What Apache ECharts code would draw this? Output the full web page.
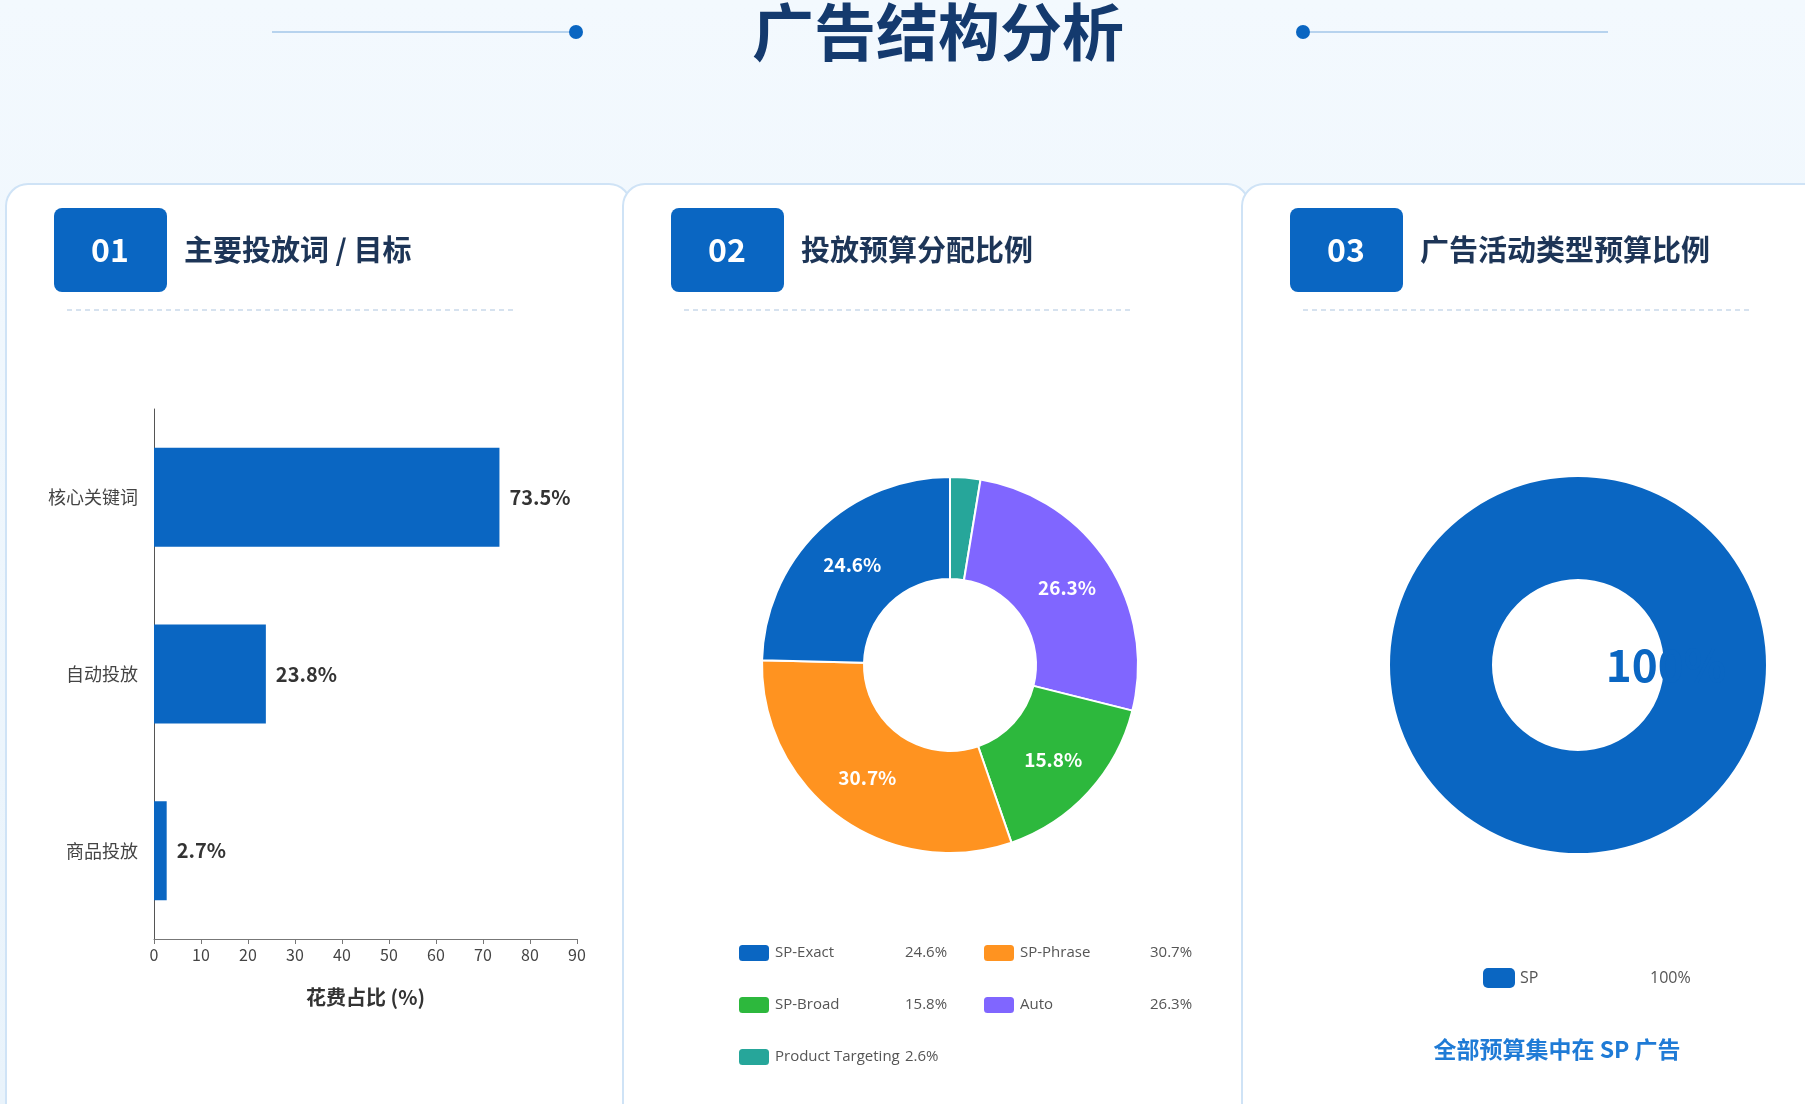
<!DOCTYPE html>
<html><head><meta charset="utf-8">
<script src="https://cdn.jsdelivr.net/npm/echarts@6/dist/echarts.min.js"></script>
<style>html,body{margin:0;padding:0;background:#eef6fc;}#c{width:1805px;height:1104px;}</style>
</head><body><div id="c"></div>
<script>
const barCategories = ['核心关键词', '自动投放', '商品投放'];
const barValues = [73.5, 23.8, 2.7];
const xTicks = [0, 10, 20, 30, 40, 50, 60, 70, 80, 90];
const pieNames = ['Product Targeting', 'Auto', 'SP-Broad', 'SP-Phrase', 'SP-Exact'];
const pieValues = [2.6, 26.3, 15.8, 30.7, 24.6];
const pieColors = ['#26a69a', '#8066ff', '#2db83d', '#ff9320', '#0a66c2'];
const typeNames = ['SP'];
const typeValues = [100];

const F = '"Noto Sans CJK SC","Noto Sans",sans-serif';
const blue = '#0a66c2';
const titleColor = '#1d3557';

function card(x, w, num, title) {
  return [
    {type:'rect', shape:{x:x, y:184, width:w, height:960, r:22}, style:{fill:'#fff', stroke:'#cfe3f6', lineWidth:2}},
    {type:'rect', shape:{x:x+48, y:208, width:113, height:84, r:8}, style:{fill:blue}},
    {type:'text', x:x+104, y:250, style:{text:num, fill:'#fff', font:'bold 32px '+F, align:'center', verticalAlign:'middle'}},
    {type:'text', x:x+178, y:250, style:{text:title, fill:titleColor, font:'bold 29px '+F, verticalAlign:'middle'}},
    {type:'line', shape:{x1:x+61, y1:310, x2:x+510, y2:310}, style:{stroke:'#c9d9ea', lineWidth:1.5, lineDash:[5,4]}}
  ];
}
const pctMap = {};
pieNames.forEach((n,i)=>pctMap[n]=pieValues[i]);

const chart = echarts.init(document.getElementById('c'));
chart.setOption({
  backgroundColor: {type:'linear', x:0,y:0,x2:0,y2:1, colorStops:[{offset:0,color:'#f3f9fe'},{offset:1,color:'#e9f3fb'}]},
  graphic: [
    {type:'text', x:938, y:32, style:{text:'广告结构分析', fill:'#143a6e', font:'bold 62px '+F, align:'center', verticalAlign:'middle'}},
    {type:'line', shape:{x1:272,y1:32,x2:570,y2:32}, style:{stroke:'#b7d3ee', lineWidth:2}},
    {type:'circle', shape:{cx:576, cy:32, r:7}, style:{fill:blue}},
    {type:'line', shape:{x1:1310,y1:32,x2:1608,y2:32}, style:{stroke:'#b7d3ee', lineWidth:2}},
    {type:'circle', shape:{cx:1303, cy:32, r:7}, style:{fill:blue}},
    ...card(6, 625, '01', '主要投放词 / 目标'),
    ...card(623, 626, '02', '投放预算分配比例'),
    ...card(1242, 640, '03', '广告活动类型预算比例'),
    {type:'text', x:1666, y:665, z:10, style:{text:'100%', fill:blue, font:'bold 44px '+F, align:'center', verticalAlign:'middle'}},
    {type:'text', x:1557, y:1049, style:{text:'全部预算集中在 SP 广告', fill:'#1f7bd6', font:'bold 23px '+F, align:'center', verticalAlign:'middle'}}
  ],
  grid: {left:154, top:409, width:423, height:530},
  xAxis: {type:'value', min:0, max:90, interval:10,
    axisLine:{show:true, lineStyle:{color:'#777'}}, axisTick:{show:true, lineStyle:{color:'#777'}},
    splitLine:{show:false}, axisLabel:{color:'#444', fontSize:16, fontFamily:F,
      formatter:v=>xTicks.includes(v)?String(v):''},
    name:'花费占比 (%)', nameLocation:'middle', nameGap:48, nameTextStyle:{color:'#333', fontSize:20, fontWeight:'bold', fontFamily:F}},
  yAxis: {type:'category', data:barCategories, inverse:true,
    axisLine:{show:true, lineStyle:{color:'#555'}}, axisTick:{show:false},
    axisLabel:{color:'#444', fontSize:18, fontFamily:F, margin:16}},
  legend: [
    {data:['SP-Exact','SP-Broad','Product Targeting'], orient:'vertical', left:732, top:938, itemWidth:32, itemHeight:18, itemGap:32,
      textStyle:{fontSize:15, color:'#555', fontFamily:'"Open Sans",sans-serif', rich:{n:{width:130,fontSize:15,color:'#555'}}},
      formatter:n=>'{n|'+n+'}'+pctMap[n]+'%'},
    {data:['SP-Phrase','Auto'], orient:'vertical', left:977, top:938, itemWidth:32, itemHeight:18, itemGap:32,
      textStyle:{fontSize:15, color:'#555', fontFamily:'"Open Sans",sans-serif', rich:{n:{width:130,fontSize:15,color:'#555'}}},
      formatter:n=>'{n|'+n+'}'+pctMap[n]+'%'},
    {data:['SP'], orient:'horizontal', left:1478, top:963, itemWidth:32, itemHeight:20,
      textStyle:{fontSize:16, color:'#555', fontFamily:'"Open Sans",sans-serif', rich:{n:{width:130,fontSize:16,color:'#555'}}},
      formatter:n=>'{n|'+n+'}100%'}
  ],
  series: [
    {type:'bar', data:barValues, barWidth:99, itemStyle:{color:blue},
      label:{show:true, position:'right', distance:10, formatter:p=>p.value+'%', color:'#333', fontSize:20, fontWeight:'bold', fontFamily:F}},
    {type:'pie', center:[950,665], radius:[86,188], startAngle:90, clockwise:true,
      data:pieNames.map((n,i)=>({name:n, value:pieValues[i], itemStyle:{color:pieColors[i]}})),
      itemStyle:{borderColor:'#fff', borderWidth:2},
      label:{show:true, position:'inside', formatter:p=>p.value<5?'':p.value+'%', color:'#fff', fontSize:19, fontWeight:'bold', fontFamily:F},
      labelLine:{show:false}},
    {type:'pie', center:[1578,665], radius:[86,188],
      data:typeNames.map((n,i)=>({name:n, value:typeValues[i], itemStyle:{color:blue}})),
      label:{show:false}, labelLine:{show:false}}
  ]
});
</script></body></html>
